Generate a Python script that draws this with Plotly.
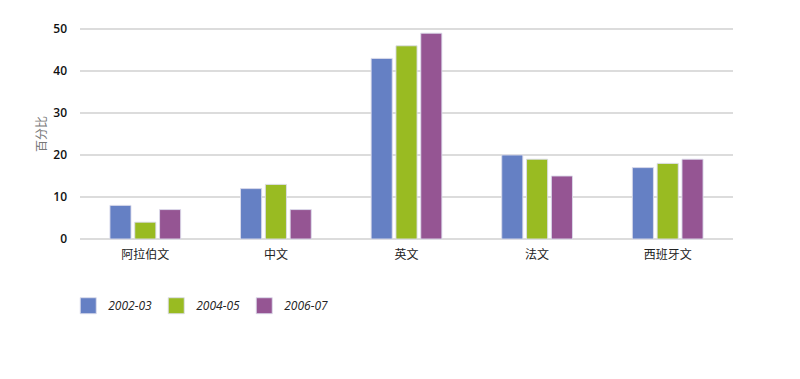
import plotly.graph_objects as go

categories = ["阿拉伯文", "中文", "英文", "法文", "西班牙文"]
series_names = ["2002-03", "2004-05", "2006-07"]
v_2002 = [8, 12, 43, 20, 17]
v_2004 = [4, 13, 46, 19, 18]
v_2006 = [7, 7, 49, 15, 19]
colors = ["#6580C4", "#99BB22", "#955593"]
tick_vals = [0, 10, 20, 30, 40, 50]

fig = go.Figure()
for name, vals, c in zip(series_names, [v_2002, v_2004, v_2006], colors):
    fig.add_trace(go.Bar(
        name=name, x=categories, y=vals, showlegend=False,
        marker=dict(color=c, line=dict(color="rgba(220,220,235,0.9)", width=1)),
    ))
for name, c in zip(series_names, colors):
    fig.add_trace(go.Scatter(
        name=name, x=[None], y=[None], mode="markers",
        marker=dict(symbol="square", size=16, color=c, line=dict(color="rgba(220,220,235,0.9)", width=1)),
    ))

fig.update_layout(
    width=800, height=379,
    margin=dict(l=80, r=67, t=28, b=139),
    paper_bgcolor="white", plot_bgcolor="white",
    barmode="group", bargap=0.43, bargroupgap=0.15,
    font=dict(family="Open Sans, Noto Sans CJK SC", size=12, color="#222"),
    xaxis=dict(
        range=[-0.5, 4.5], showgrid=False, showline=False, ticks="",
        ticklabelstandoff=6,
        tickfont=dict(family="Noto Sans CJK SC", size=12, color="#222"),
    ),
    yaxis=dict(
        range=[-0.24, 50.24], tickvals=tick_vals, showgrid=True,
        gridcolor="#dcdcdc", gridwidth=2, zeroline=False,
        ticks="", ticklabelstandoff=12,
        tickfont=dict(family="Open Sans", size=12, color="#111", weight=600),
        title=dict(text="百分比", font=dict(family="Noto Sans CJK SC", size=12, color="#777"), standoff=4),
    ),
    legend=dict(
        orientation="h", x=-0.018, xanchor="left", y=-0.31, yanchor="middle",
        entrywidth=43, entrywidthmode="pixels",
        font=dict(family="Open Sans", size=12, color="#222", style="italic"),
    ),
)

fig.write_html("out.html")
